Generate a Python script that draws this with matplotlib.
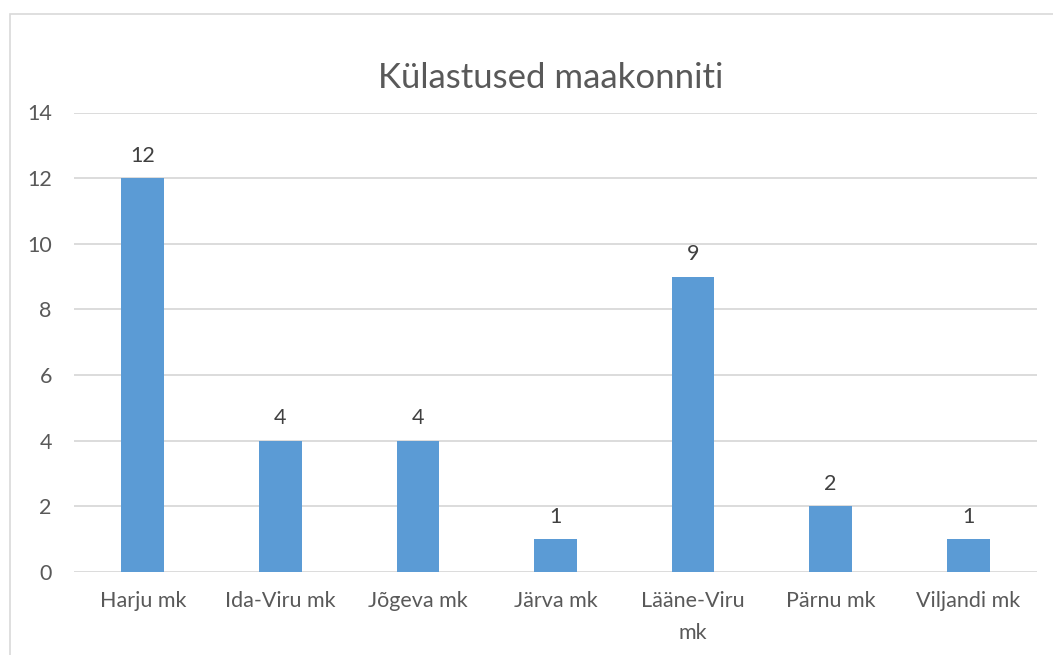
import matplotlib
matplotlib.use("Agg")
import matplotlib.pyplot as plt
from matplotlib.patches import Rectangle

categories = ["Harju mk", "Ida-Viru mk", "Jõgeva mk", "Järva mk", "Lääne-Viru\nmk", "Pärnu mk", "Viljandi mk"]
values = [12, 4, 4, 1, 9, 2, 1]
yticks = [0, 2, 4, 6, 8, 10, 12, 14]
title = "Külastused maakonniti"

W, H = 1053, 655
fig = plt.figure(figsize=(W / 100, H / 100), dpi=100)
plt.rcParams['font.family'] = ['Lato', 'DejaVu Sans']

# chart border
fig.patches.append(Rectangle((10 / W, -0.1), 1.2, 1 - 14 / H + 0.1, transform=fig.transFigure,
                             fill=False, edgecolor="#D9D9D9", linewidth=1.2))

x0, x1 = 74, 1037
y0, y1 = 572, 112.5
ax = fig.add_axes([x0 / W, 1 - y0 / H, (x1 - x0) / W, (y0 - y1) / H])

text_col = "#595959"
fs = 15.5
xs = list(range(len(categories)))
bars = ax.bar(xs, values, width=0.31, color="#5B9BD5", zorder=3)
for x, v in zip(xs, values):
    ax.annotate(str(v), (x, v), xytext=(0, 9), textcoords="offset points",
                ha="center", va="bottom", fontsize=fs, color="#404040")

ax.set_xlim(-0.5, len(categories) - 0.5)
ax.set_ylim(0, 14)
ax.set_yticks(yticks)
ax.set_xticks(xs)
ax.set_xticklabels(categories, fontsize=fs, color=text_col, linespacing=1.75)
ax.tick_params(axis="y", labelsize=fs, labelcolor=text_col, length=0, pad=16)
ax.tick_params(axis="x", length=0, pad=14)
ax.grid(axis="y", color="#D9D9D9", linewidth=1.3, zorder=0)
for s in ax.spines.values():
    s.set_visible(False)

fig.text(551 / W, 1 - 78 / H, title, ha="center", va="center", fontsize=25, color=text_col)

fig.savefig("out.png", dpi=100)
